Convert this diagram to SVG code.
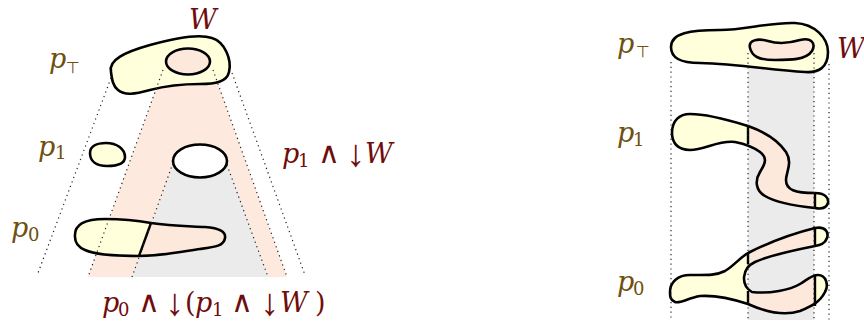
<svg xmlns="http://www.w3.org/2000/svg" width="864" height="329" viewBox="0 0 864 329">
<style>
.blob{stroke:#000;stroke-width:2.6;stroke-linejoin:round}
.yel{fill:#ffffdc}
.pink{fill:#fde8dc}
.cone{fill:#fde9dd}
.gray{fill:#ebebeb}
.out{fill:none;stroke:#000;stroke-width:2.6;stroke-linejoin:round}
.div{stroke:#000;stroke-width:2.4}
.dot{stroke:#222;stroke-width:1.2;stroke-dasharray:1.2 3.6;fill:none}
.t{font-family:'DejaVu Serif',serif;font-size:27px}
.it{font-style:italic}
.sub{font-family:'DejaVu Serif',serif;font-size:18px;font-style:normal}
.br{fill:#6e500f}
.rd{fill:#6f0c0c}
.sym{font-family:'DejaVu Sans',sans-serif;font-size:30px;font-style:normal}
.arr{font-family:'Liberation Serif',serif;font-size:38px;font-style:normal}
.top{font-family:'DejaVu Sans',sans-serif;font-size:16px;font-style:normal}
</style>
<defs>
<clipPath id="clipL0"><polygon points="159.4,200 240,200 240,270 133.9,270"/></clipPath>
<clipPath id="clipR"><rect x="748" y="0" width="67" height="329"/></clipPath>
<path id="snake" d="M 672,133 C 672,120 680,114 690,114 C 710,114 735,122 748,126 C 765,132 778,140 786,152 C 793,163 786,172 786,180 C 786,190 795,193 815,193 C 825,193 829,198 828,203 C 826,209 820,209 815,208 C 795,206 775,202 765,196 C 755,190 755,180 760,172 C 765,164 768,158 760,152 C 752,146 745,144 735,142 C 718,140 705,150 690,150 C 678,150 672,143 672,133 Z"/>
<path id="fork" d="M 670,292 C 670,282 678,275 690,275 C 705,275 715,276 725,271 C 735,265 740,257 750,252 C 770,242 795,233 815,228 C 825,226 829,232 827,238 C 825,244 820,245 815,246 C 795,250 770,255 755,262 C 742,268 740,285 752,292 C 770,294 790,290 800,284 C 808,279 812,275 818,275 C 826,275 829,285 825,292 C 820,302 812,306 800,311 C 785,316 768,313 748,304 C 730,298 715,295 700,296 C 688,298 680,304 675,302 C 670,300 670,296 670,292 Z"/>
<path id="l0" d="M 75,237 C 74,224 85,219 105,219 C 125,219 140,221 151,223 C 170,226 185,226 205,227 C 220,228 226,232 225,238 C 224,246 215,247 200,249 C 180,252 160,256 139,256 C 115,256 95,255 85,250 C 78,247 75,243 75,237 Z"/>
</defs>

<g id="cones-left">
<polygon class="cone" points="163,70 213,70 287,277 88,277"/>
<polygon class="gray" points="175,160 226,160 268,277 132,277"/>
</g>

<g id="node-left-ptop">
<path class="blob yel" d="M 111,72 C 108,60 125,52 150,45 C 175,38 200,34 212,38 C 225,42 232,60 229,72 C 227,82 215,84 200,84 C 180,84 165,86 150,90 C 135,94 125,96 118,90 C 113,86 112,80 111,72 Z"/>
<ellipse class="blob pink" cx="188" cy="61.5" rx="22" ry="13"/>
</g>

<g id="node-left-p1a">
<path class="blob yel" d="M 90,153 C 90,146 97,143 106,143 C 117,143 125,149 125,157 C 125,164 117,166 107,166 C 96,166 90,161 90,153 Z"/>
</g>
<g id="node-left-p1b">
<ellipse class="blob" fill="#fff" cx="200" cy="161" rx="27" ry="16.5"/>
</g>

<g id="node-left-p0">
<use href="#l0" class="yel"/>
<use href="#l0" class="pink" clip-path="url(#clipL0)"/>
<line class="div" x1="151" y1="223" x2="139" y2="256"/>
<use href="#l0" class="out"/>
</g>

<g id="band-right">
<rect class="gray" x="748" y="58" width="66" height="262"/>
</g>

<g id="node-right-ptop">
<path class="blob yel" d="M 671,47 C 671,33 690,30 720,30 C 745,30 770,22 795,23 C 815,24 828,38 828,52 C 828,68 818,73 805,72 C 770,70 740,64 700,63 C 680,63 671,58 671,47 Z"/>
<path class="blob pink" d="M 750,48 C 748,40 758,38 768,41 C 778,44 790,43 800,40 C 812,37 816,44 812,51 C 806,60 790,60 775,60 C 758,60 752,56 750,48 Z"/>
</g>

<g id="node-right-p1">
<use href="#snake" class="yel"/>
<use href="#snake" class="pink" clip-path="url(#clipR)"/>
<line class="div" x1="748" y1="126" x2="748" y2="144"/>
<line class="div" x1="815" y1="193" x2="815" y2="208"/>
<use href="#snake" class="out"/>
</g>

<g id="node-right-p0">
<use href="#fork" class="yel"/>
<use href="#fork" class="pink" clip-path="url(#clipR)"/>
<line class="div" x1="748" y1="253" x2="748" y2="264"/>
<line class="div" x1="748" y1="291" x2="748" y2="304"/>
<line class="div" x1="815" y1="228" x2="815" y2="246"/>
<line class="div" x1="815" y1="275" x2="815" y2="306"/>
<use href="#fork" class="out"/>
</g>

<g id="connectors">
<line class="dot" x1="111" y1="78" x2="38" y2="273"/>
<line class="dot" x1="232" y1="73" x2="305" y2="275"/>
<line class="dot" x1="163" y1="70" x2="88" y2="277"/>
<line class="dot" x1="213" y1="70" x2="287" y2="277"/>
<line class="dot" x1="173" y1="163" x2="132" y2="277"/>
<line class="dot" x1="227" y1="165" x2="268" y2="277"/>
<line class="dot" x1="671" y1="62" x2="671" y2="320"/>
<line class="dot" x1="748" y1="53" x2="748" y2="320"/>
<line class="dot" x1="814" y1="53" x2="814" y2="320"/>
<line class="dot" x1="829" y1="64" x2="829" y2="320"/>
</g>

<g id="labels">
<text class="t rd it" x="189" y="29">W</text>
<text class="t br"><tspan class="it" x="49" y="68">p</tspan><tspan class="top" x="66" y="73">⊤</tspan></text>
<text class="t br"><tspan class="it" x="38" y="156">p</tspan><tspan class="sub" x="55" y="159">1</tspan></text>
<text class="t br"><tspan class="it" x="11" y="237">p</tspan><tspan class="sub" x="28" y="241">0</tspan></text>

<text class="t rd"><tspan class="it" x="282" y="163">p</tspan><tspan class="sub" x="298" y="167">1</tspan><tspan class="sym" x="318" y="163">∧</tspan><tspan class="arr" x="346" y="166">↓</tspan><tspan class="it" x="365" y="163">W</tspan></text>
<text class="t rd"><tspan class="it" x="102" y="312">p</tspan><tspan class="sub" x="118" y="316">0</tspan><tspan class="sym" x="138" y="312">∧</tspan><tspan class="arr" x="165" y="315">↓</tspan><tspan x="185" y="312">(</tspan><tspan class="it" x="195" y="312">p</tspan><tspan class="sub" x="212" y="316">1</tspan><tspan class="sym" x="231" y="312">∧</tspan><tspan class="arr" x="260" y="315">↓</tspan><tspan class="it" x="280" y="312">W</tspan><tspan x="315" y="312">)</tspan></text>

<text class="t br"><tspan class="it" x="617" y="53">p</tspan><tspan class="top" x="636" y="57">⊤</tspan></text>
<text class="t br"><tspan class="it" x="617" y="142">p</tspan><tspan class="sub" x="633" y="146">1</tspan></text>
<text class="t br"><tspan class="it" x="617" y="291">p</tspan><tspan class="sub" x="633" y="295">0</tspan></text>
<text class="t rd it" x="837" y="58">W</text>
</g>
</svg>
